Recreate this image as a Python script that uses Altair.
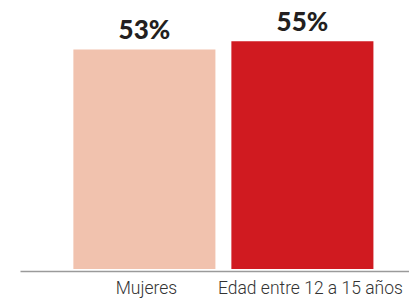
import altair as alt
import pandas as pd

categories = ["Mujeres", "Edad entre 12 a 15 años"]
values = [53, 55]
labels = ["53%", "55%"]
colors = ["#F1C2AE", "#D01A20"]

df = pd.DataFrame({"cat": categories, "val": values, "lab": labels})

x = alt.X("cat:N", sort=categories, title=None,
          scale=alt.Scale(paddingInner=0.101, paddingOuter=0.2815, align=0.6),
          axis=alt.Axis(domainColor="#9a9a9a", domainWidth=1.5, ticks=False, offset=2,
                        labelAngle=0, labelFont="Roboto", labelFontWeight=300,
                        labelFontSize=17.5, labelColor="#333333", labelPadding=8, labelLimit=0,
                        labelOffset={"condition": {"test": "datum.value === 'Edad entre 12 a 15 años'", "value": 8}, "value": 2}))
y = alt.Y("val:Q", scale=alt.Scale(domain=[0, 60.6], nice=False), axis=None)

bars = alt.Chart(df).mark_bar().encode(
    x=x, y=y,
    color=alt.Color("cat:N", scale=alt.Scale(domain=categories, range=colors), legend=None),
)
text = alt.Chart(df).mark_text(baseline="bottom", dy=-5, font="Lato", fontWeight=900,
                               fontSize=26, color="#231F20").encode(
    x=alt.X("cat:N", sort=categories), y="val:Q", text="lab:N")

chart = (bars + text).properties(
    width=389, height=251,
    autosize=alt.AutoSizeParams(type="none"),
    padding={"left": 12, "top": 10, "right": 0, "bottom": 34},
).configure_view(stroke=None)

chart.save("out.html", embed_options={"renderer": "svg", "actions": False})
